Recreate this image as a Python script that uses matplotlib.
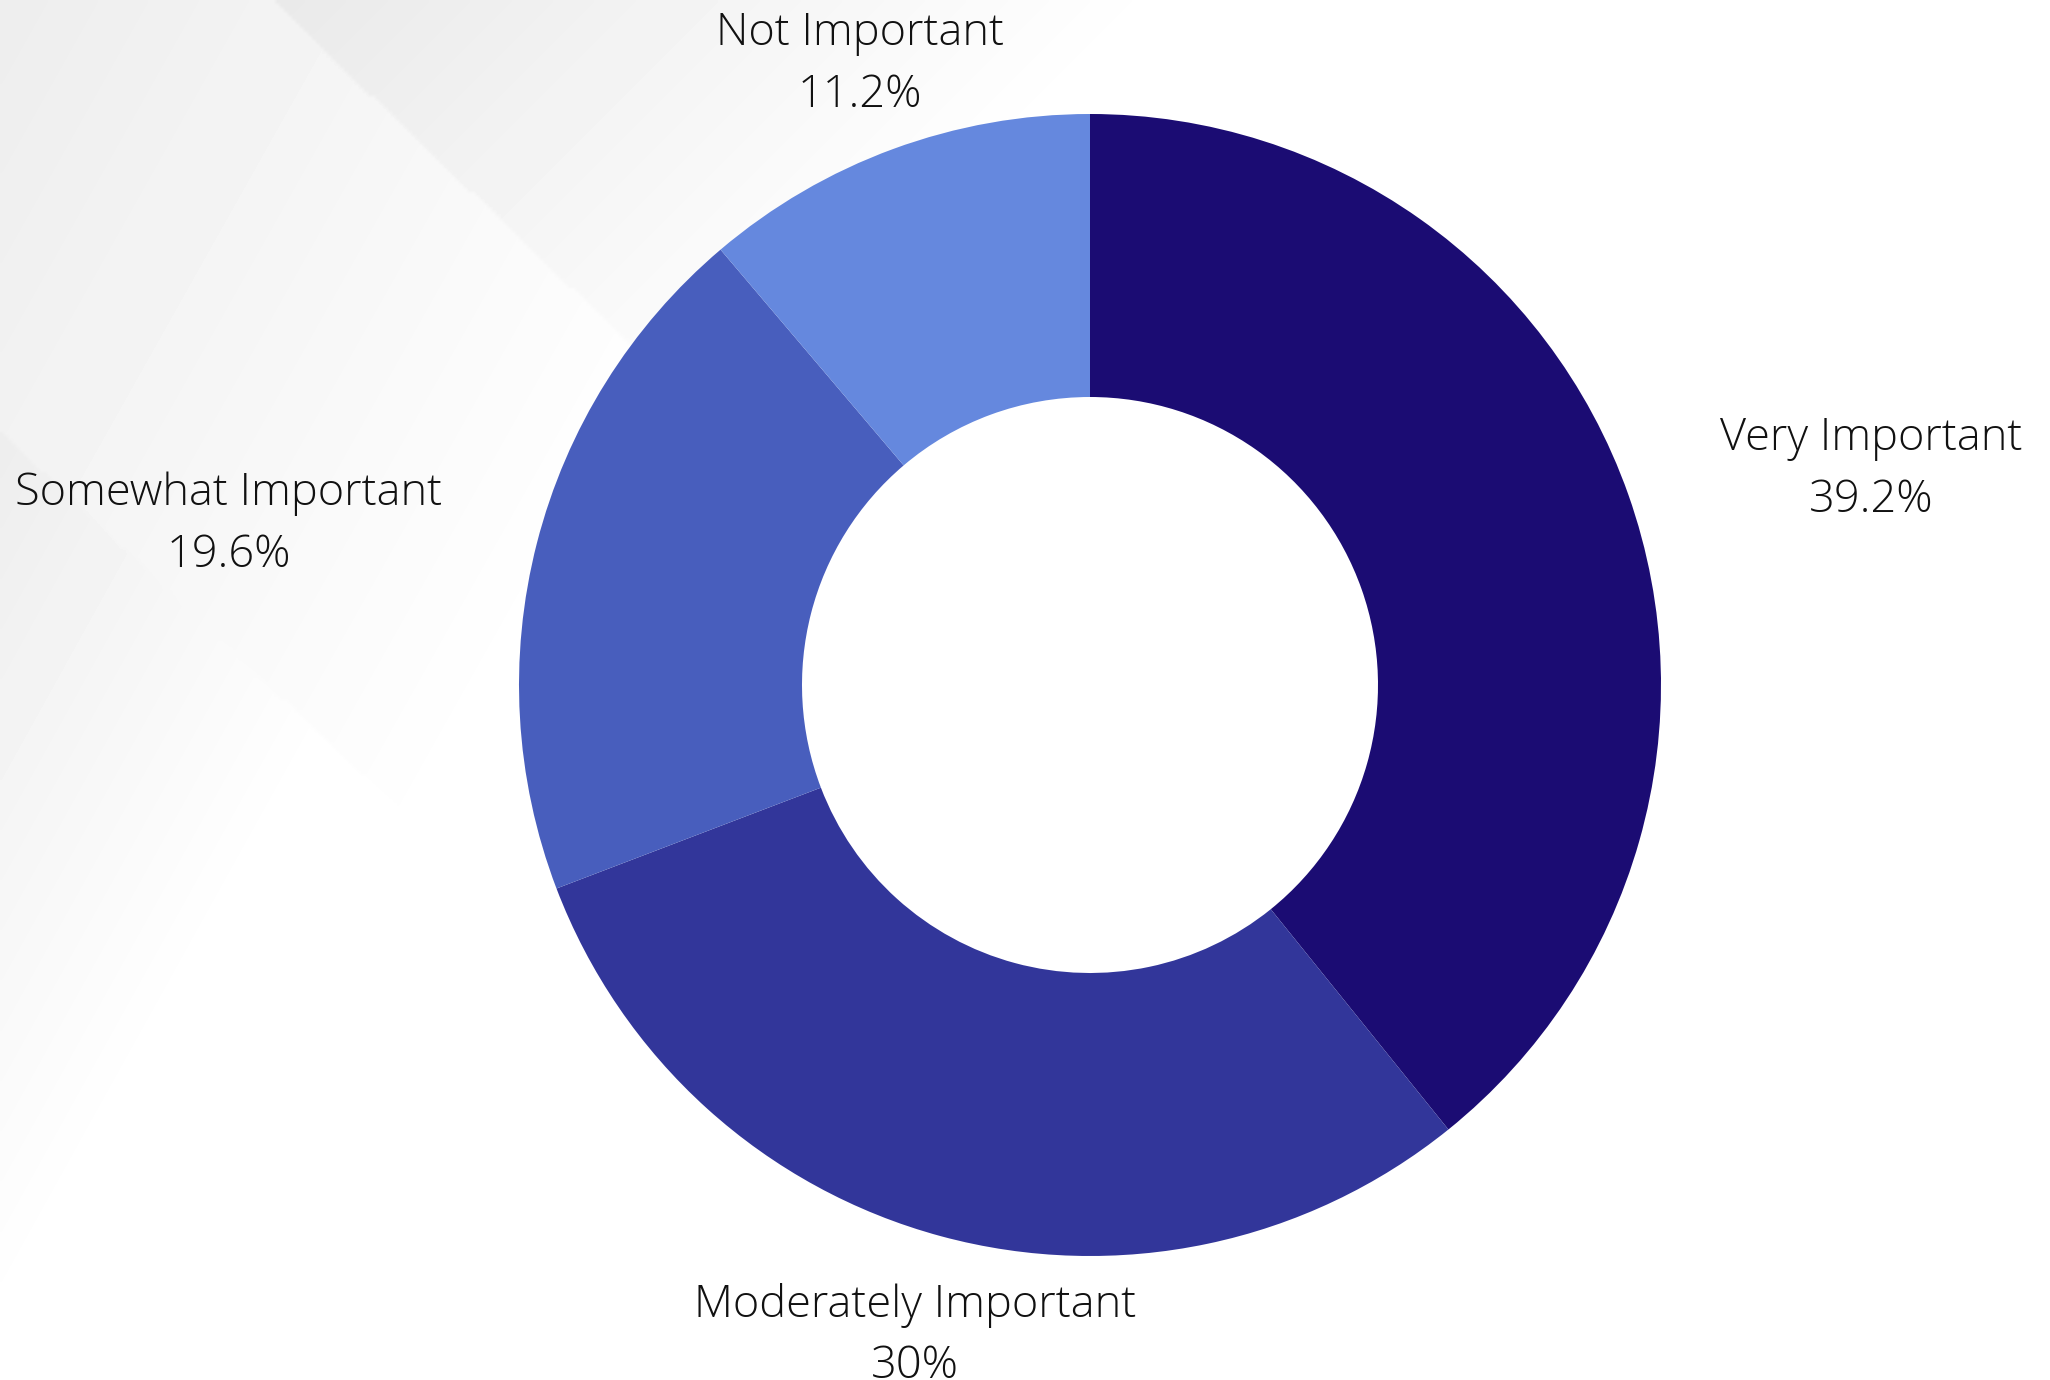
import numpy as np
import matplotlib
matplotlib.use('Agg')
import matplotlib.pyplot as plt

LABELS = ['Very Important', 'Moderately Important', 'Somewhat Important', 'Not Important']
VALUES = [39.2, 30.0, 19.6, 11.2]
PCT_TEXT = ['39.2%', '30%', '19.6%', '11.2%']
COLORS = ['#1B0C73', '#32369A', '#485EBD', '#6588DE']

W, H = 2050, 1380
fig = plt.figure(figsize=(W / 100, H / 100), dpi=100)

# fond gris clair en dégradé (coin haut gauche)
bg = fig.add_axes([0, 0, 1, 1])
yy, xx = np.mgrid[0:H:4, 0:W:4].astype(float)
shade = 0.07 * np.clip(1 - (xx / 900 + yy / 1600), 0, 1)
# bande du haut, à droite de la diagonale
band = (xx - 272) * 0.96 - yy > 0
shade = np.where(band, 0.085 * np.clip(1 - (xx - 272) / 900 - yy / 900, 0, 1), shade)
# triangle en bas à gauche
low = yy - 430 - xx * 0.95 > 0
shade = np.where(low, 0.07 * np.clip(1 - xx / 500 - (yy - 430) / 900, 0, 1), shade)
img = 1 - shade
bg.imshow(img, cmap='gray', vmin=0, vmax=1, extent=[0, W, H, 0], aspect='auto',
          interpolation='bilinear')
bg.set_xlim(0, W)
bg.set_ylim(H, 0)
bg.axis('off')

# donut
cx, cy, r = 1090, 685, 571
ax = fig.add_axes([(cx - r) / W, 1 - (cy + r) / H, 2 * r / W, 2 * r / H])
ax.pie(VALUES, colors=COLORS, startangle=90, counterclock=False,
       wedgeprops=dict(width=1 - 288 / 571, edgecolor='none'), radius=1)
ax.set_xlim(-1, 1)
ax.set_ylim(-1, 1)
ax.axis('off')

plt.rcParams['font.family'] = ['Open Sans', 'DejaVu Sans']
pos = {
    'Very Important': (1871, 439),
    'Moderately Important': (915, 1305),
    'Somewhat Important': (229, 494),
    'Not Important': (860, 34),
}
for lab, pct in zip(LABELS, PCT_TEXT):
    x, y = pos[lab]
    bg.text(x, y, lab, ha='center', va='center', fontsize=32.5, color='#111111',
            fontweight='light')
    bg.text(x, y + 62, pct, ha='center', va='center', fontsize=32.5, color='#111111',
            fontweight='light')

fig.savefig('out.png', dpi=100)
